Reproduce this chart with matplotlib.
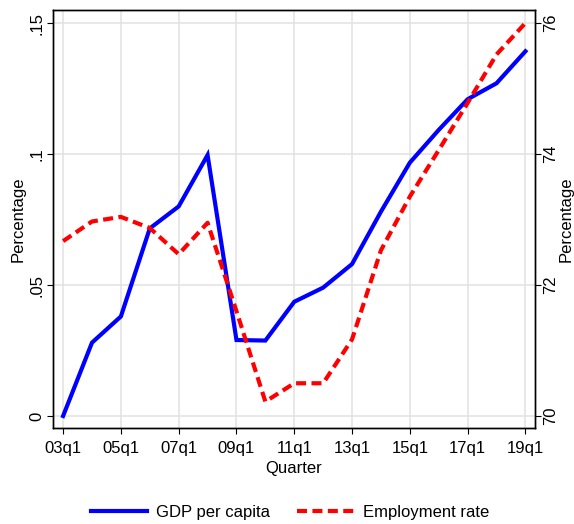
import matplotlib
matplotlib.use('Agg')
import matplotlib.pyplot as plt

plt.rcParams['font.family'] = ['Liberation Sans', 'DejaVu Sans']
plt.rcParams['font.size'] = 12

# annual observations, plotted at q1 of each year
years = list(range(2003, 2020))
gdp_pc = [0.0, 0.028, 0.038, 0.0716, 0.080, 0.0996, 0.029, 0.0288, 0.0436,
          0.049, 0.058, 0.078, 0.0967, 0.1092, 0.1209, 0.127, 0.1392]
emp_rate = [72.67, 72.97, 73.04, 72.87, 72.47, 72.95, 71.6, 70.22, 70.5,
            70.5, 71.17, 72.53, 73.35, 74.06, 74.78, 75.52, 76.0]

xticks = list(range(2003, 2020, 2))
xticklabels = ['03q1', '05q1', '07q1', '09q1', '11q1', '13q1', '15q1', '17q1', '19q1']
left_ticks = [0, 0.05, 0.1, 0.15]
left_labels = ['0', '.05', '.1', '.15']
right_ticks = [70, 72, 74, 76]
right_labels = ['70', '72', '74', '76']

fig = plt.figure(figsize=(5.74, 5.24), dpi=100)
ax = fig.add_axes([0.0923, 0.1832, 0.8397, 0.7977])
ax2 = ax.twinx()

l1, = ax.plot(years, gdp_pc, color='#0000ff', lw=3, solid_joinstyle='miter',
              label='GDP per capita')
l2, = ax2.plot(years, emp_rate, color='#ff0000', lw=3, dashes=(2.4, 1.3),
               label='Employment rate')

ax.set_xlim(2003 - 0.35, 2019 + 0.33)
ax.set_ylim(-0.00458, 0.15496)
ax2.set_ylim(70 - 0.00458 * 40, 70 + 0.15496 * 40)

ax.set_xticks(xticks)
ax.set_xticklabels(xticklabels)
ax.set_yticks(left_ticks)
ax.set_yticklabels(left_labels, rotation=90, va='center')
ax2.set_yticks(right_ticks)
ax2.set_yticklabels(right_labels, rotation=90, va='center')

ax.grid(True, color='#e1e1e1', lw=1.1)
ax.set_axisbelow(True)
for a in (ax, ax2):
    a.tick_params(direction='out', length=4, width=0.8, color='black', pad=2)
    for s in a.spines.values():
        s.set_color('black')
        s.set_linewidth(1.0)
ax.tick_params(axis='x', pad=5)

ax.set_xlabel('Quarter', labelpad=4)
ax.set_ylabel('Percentage', labelpad=3)
ax2.set_ylabel('Percentage', labelpad=0)

fig.legend(handles=[l1, l2], loc='center', bbox_to_anchor=(0.505, 0.022),
           ncol=2, frameon=False, handlelength=3.4, handletextpad=0.55,
           columnspacing=1.6)

fig.savefig('out.png', dpi=100)
